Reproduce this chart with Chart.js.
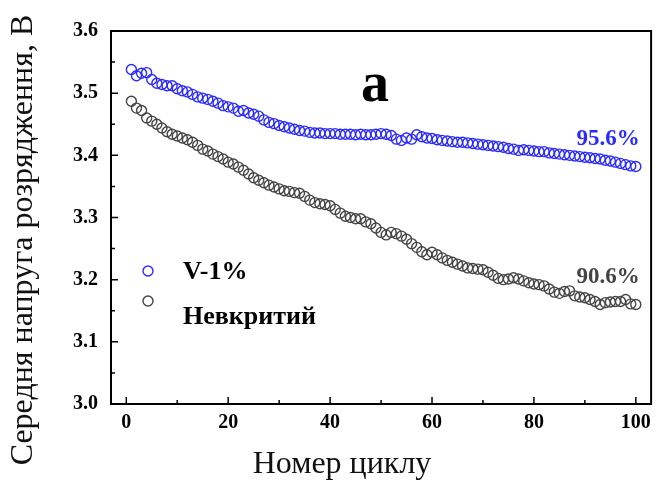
<!DOCTYPE html>
<html><head><meta charset="utf-8">
<script src="https://cdn.jsdelivr.net/npm/chart.js@4"></script>
<style>html,body{margin:0;padding:0;background:#fff}</style>
</head><body>
<canvas id="c" width="658" height="482"></canvas>
<script>
const cycles = [1,2,3,4,5,6,7,8,9,10,11,12,13,14,15,16,17,18,19,20,21,22,23,24,25,26,27,28,29,30,31,32,33,34,35,36,37,38,39,40,41,42,43,44,45,46,47,48,49,50,51,52,53,54,55,56,57,58,59,60,61,62,63,64,65,66,67,68,69,70,71,72,73,74,75,76,77,78,79,80,81,82,83,84,85,86,87,88,89,90,91,92,93,94,95,96,97,98,99,100];
const seriesV1 = [3.538,3.528,3.532,3.533,3.522,3.516,3.514,3.512,3.512,3.507,3.504,3.502,3.498,3.494,3.492,3.490,3.487,3.484,3.480,3.478,3.476,3.471,3.472,3.468,3.466,3.463,3.457,3.453,3.451,3.448,3.446,3.444,3.442,3.440,3.439,3.437,3.436,3.436,3.435,3.435,3.435,3.434,3.434,3.434,3.433,3.434,3.433,3.433,3.434,3.435,3.434,3.432,3.426,3.424,3.428,3.426,3.433,3.430,3.428,3.427,3.425,3.424,3.423,3.422,3.421,3.421,3.420,3.419,3.418,3.417,3.416,3.415,3.414,3.413,3.411,3.410,3.408,3.409,3.408,3.407,3.406,3.406,3.404,3.403,3.402,3.401,3.400,3.399,3.398,3.397,3.396,3.395,3.394,3.392,3.391,3.389,3.387,3.385,3.383,3.382];
const seriesBare = [3.487,3.476,3.472,3.460,3.455,3.450,3.444,3.438,3.434,3.431,3.428,3.425,3.421,3.416,3.410,3.407,3.402,3.398,3.394,3.389,3.386,3.381,3.376,3.370,3.364,3.360,3.356,3.352,3.349,3.346,3.343,3.342,3.340,3.339,3.334,3.328,3.324,3.322,3.321,3.319,3.313,3.307,3.302,3.300,3.298,3.298,3.293,3.290,3.283,3.276,3.272,3.276,3.274,3.270,3.265,3.258,3.252,3.245,3.240,3.244,3.240,3.235,3.231,3.228,3.225,3.222,3.219,3.218,3.217,3.216,3.212,3.207,3.202,3.200,3.201,3.203,3.201,3.198,3.195,3.193,3.192,3.190,3.185,3.180,3.178,3.181,3.182,3.174,3.172,3.171,3.168,3.165,3.160,3.163,3.164,3.165,3.165,3.168,3.161,3.160];
const seriesNames = ['V-1%', 'Невкритий'];
const retentionLabels = ['95.6%', '90.6%'];
const xTicks = [0,20,40,60,80,100];
const xMinorTicks = [10,30,50,70,90];
const yTicks = [3.0,3.1,3.2,3.3,3.4,3.5,3.6];
const yMinorTicks = [3.05,3.15,3.25,3.35,3.45,3.55];
const xTitle = 'Номер циклу';
const yTitle = 'Середня напруга розрядження, В';
const panelLabel = 'a';

const BLUE = '#2a2aff';
const GRAY = '#444444';
const SERIF = '"Liberation Serif", "Times New Roman", serif';

const toPts = (xs, ys) => xs.map((x, i) => ({x: x, y: ys[i]}));

const decor = {
  id: 'decor',
  afterDraw(chart) {
    const ctx = chart.ctx;
    const a = chart.chartArea;
    const xs = chart.scales.x, ys = chart.scales.y;
    ctx.save();
    ctx.strokeStyle = '#000';
    ctx.lineWidth = 2;
    ctx.strokeRect(a.left, a.top, a.right - a.left, a.bottom - a.top);
    ctx.lineWidth = 1.5;
    ctx.beginPath();
    xTicks.forEach(v => { const p = xs.getPixelForValue(v); ctx.moveTo(p, a.bottom); ctx.lineTo(p, a.bottom - 7); });
    xMinorTicks.forEach(v => { const p = xs.getPixelForValue(v); ctx.moveTo(p, a.bottom); ctx.lineTo(p, a.bottom - 4); });
    yTicks.forEach(v => { const p = ys.getPixelForValue(v); ctx.moveTo(a.left, p); ctx.lineTo(a.left + 7, p); });
    yMinorTicks.forEach(v => { const p = ys.getPixelForValue(v); ctx.moveTo(a.left, p); ctx.lineTo(a.left + 4, p); });
    ctx.stroke();
    ctx.fillStyle = '#111';
    ctx.font = '32px ' + SERIF;
    ctx.textAlign = 'center';
    ctx.textBaseline = 'middle';
    ctx.fillText(xTitle, 342, 465);
    ctx.save();
    ctx.translate(24, 240);
    ctx.rotate(-Math.PI / 2);
    ctx.fillText(yTitle, 0, 0);
    ctx.restore();
    ctx.fillStyle = '#000';
    ctx.font = 'bold 56px ' + SERIF;
    ctx.fillText(panelLabel, 375, 87);
    ctx.font = 'bold 23px ' + SERIF;
    ctx.fillStyle = BLUE;
    ctx.fillText(retentionLabels[0], 608, 139);
    ctx.fillStyle = GRAY;
    ctx.fillText(retentionLabels[1], 608, 277);
    ctx.lineWidth = 1.4;
    ctx.strokeStyle = BLUE;
    ctx.beginPath(); ctx.arc(148, 271, 5, 0, Math.PI * 2); ctx.stroke();
    ctx.strokeStyle = GRAY;
    ctx.beginPath(); ctx.arc(148, 301, 5, 0, Math.PI * 2); ctx.stroke();
    ctx.fillStyle = '#000';
    ctx.textAlign = 'left';
    ctx.font = 'bold 26px ' + SERIF;
    ctx.fillText(seriesNames[0], 183, 272);
    ctx.fillText(seriesNames[1], 183, 317);
    ctx.restore();
  }
};

new Chart(document.getElementById('c'), {
  type: 'scatter',
  data: {
    datasets: [
      { label: seriesNames[1], data: toPts(cycles, seriesBare), showLine: false,
        pointStyle: 'circle', pointRadius: 5, pointBorderWidth: 1.4,
        borderColor: GRAY, backgroundColor: 'rgba(255,255,255,0)' },
      { label: seriesNames[0], data: toPts(cycles, seriesV1), showLine: false,
        pointStyle: 'circle', pointRadius: 5, pointBorderWidth: 1.4,
        borderColor: BLUE, backgroundColor: 'rgba(255,255,255,0)' }
    ]
  },
  options: {
    responsive: false,
    animation: false,
    devicePixelRatio: 1,
    layout: { padding: { top: 31, right: 3, left: 0, bottom: 0 } },
    plugins: { legend: { display: false }, tooltip: { enabled: false } },
    scales: {
      x: {
        type: 'linear', min: -3, max: 103,
        afterBuildTicks: s => { s.ticks = xTicks.map(v => ({value: v})); },
        afterFit: s => { s.height = 78; },
        grid: { display: false, drawTicks: false }, border: { display: false },
        ticks: { color: '#000', padding: 7, maxRotation: 0, font: { family: SERIF, size: 20, weight: 'bold' } }
      },
      y: {
        type: 'linear', min: 3.0, max: 3.6,
        afterBuildTicks: s => { s.ticks = yTicks.map(v => ({value: v})); },
        afterFit: s => { s.width = 111; },
        grid: { display: false, drawTicks: false }, border: { display: false },
        ticks: { color: '#000', padding: 13, font: { family: SERIF, size: 20, weight: 'bold' },
                 callback: v => Number(v).toFixed(1) }
      }
    }
  },
  plugins: [decor]
});
</script>
</body></html>
